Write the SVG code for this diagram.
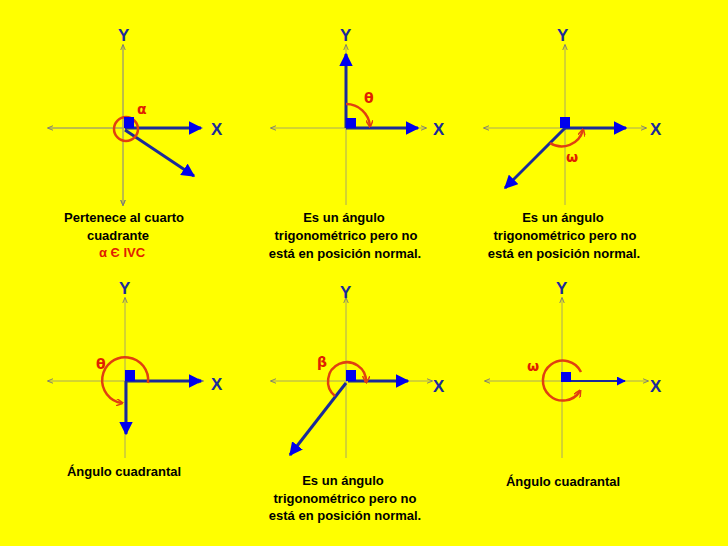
<svg xmlns="http://www.w3.org/2000/svg" width="728" height="546" viewBox="0 0 728 546">
<style>
.ax{stroke:#a8a860;stroke-width:1;fill:none}
.ray{stroke:#1a2a9a;stroke-width:3;fill:none}
.arc{stroke:#e04010;stroke-width:2.5;fill:none}
.lbl{font-family:"Liberation Sans",Arial,sans-serif;font-weight:bold;fill:#1a2a9a;font-size:17px}
.gr{font-family:"DejaVu Sans",sans-serif;font-weight:bold;fill:#e02000;font-size:14px}
.t{font-family:"Liberation Sans",Arial,sans-serif;font-weight:bold;fill:#000;font-size:13px;text-anchor:middle}
.sq{fill:#0000ee}
</style>
<defs>
<marker id="ah" viewBox="0 0 10 10" refX="9" refY="5" markerWidth="4.5" markerHeight="4.5" orient="auto" markerUnits="strokeWidth"><path d="M0,0L10,5L0,10z" fill="#0000ee"/></marker>
<marker id="sa" viewBox="0 0 10 10" refX="9" refY="5" markerWidth="6" markerHeight="6" orient="auto"><path d="M0,1L10,5L0,9" fill="none" stroke="#777" stroke-width="1.5"/></marker>
<marker id="oa" viewBox="0 0 10 10" refX="8" refY="5" markerWidth="3" markerHeight="3" orient="auto" markerUnits="strokeWidth"><path d="M0,0L10,5L0,10" fill="none" stroke="#e04010" stroke-width="2"/></marker>
</defs>
<rect width="728" height="546" fill="#ffff00"/>
<g id="p1">
<path class="ax" d="M123,128H48M123,128H203M123,128V45M123,128V205" marker-end="url(#sa)"/>
<path class="ax" d="M123,128H48" marker-end="url(#sa)"/><path class="ax" d="M123,128V45" marker-end="url(#sa)"/><path class="ax" d="M123,128V205" marker-end="url(#sa)"/>
<path class="ray" d="M125,128H201" marker-end="url(#ah)"/><path class="ray" d="M125,130L194,176" marker-end="url(#ah)"/>
<circle class="arc" cx="126" cy="129" r="12"/>
<rect class="sq" x="124" y="117" width="10" height="11"/>
<text class="lbl" x="118" y="41">Y</text><text class="lbl" x="211" y="135">X</text>
<text class="gr" x="137" y="114">α</text>
<text class="t" x="124" y="222">Pertenece al cuarto</text><text class="t" x="118" y="240">cuadrante</text>
<text class="t" x="122" y="257" fill="#e02000" style="fill:#e02000">α Є IVC</text>
</g>
<g id="p2">
<path class="ax" d="M346,128H271" marker-end="url(#sa)"/><path class="ax" d="M346,128H426" marker-end="url(#sa)"/><path class="ax" d="M346,128V45" marker-end="url(#sa)"/><path class="ax" d="M346,128V205"/>
<path class="ray" d="M346,128H418" marker-end="url(#ah)"/><path class="ray" d="M346,128V54" marker-end="url(#ah)"/>
<path class="arc" d="M346,104A24,24 0 0 1 370,126" marker-end="url(#oa)"/>
<rect class="sq" x="346" y="118" width="10" height="10"/>
<text class="lbl" x="340" y="41">Y</text><text class="lbl" x="433" y="135">X</text>
<text class="gr" x="364" y="103">θ</text>
<text class="t" x="344" y="222">Es un ángulo</text><text class="t" x="346" y="240">trigonométrico pero no</text><text class="t" x="345" y="258">está en posición normal.</text>
</g>
<g id="p3">
<path class="ax" d="M565,128H484" marker-end="url(#sa)"/><path class="ax" d="M565,128H646" marker-end="url(#sa)"/><path class="ax" d="M565,128V45" marker-end="url(#sa)"/><path class="ax" d="M565,128V205"/>
<path class="ray" d="M565,128H626" marker-end="url(#ah)"/><path class="ray" d="M565,128L505,188" marker-end="url(#ah)"/>
<path class="arc" d="M550,143A22,22 0 0 0 583,130" marker-end="url(#oa)"/>
<rect class="sq" x="560" y="117" width="10" height="11"/>
<text class="lbl" x="557" y="41">Y</text><text class="lbl" x="650" y="135">X</text>
<text class="gr" x="566" y="162">ω</text>
<text class="t" x="563" y="222">Es un ángulo</text><text class="t" x="565" y="240">trigonométrico pero no</text><text class="t" x="564" y="258">está en posición normal.</text>
</g>
<g id="p4">
<path class="ax" d="M125,381H48" marker-end="url(#sa)"/><path class="ax" d="M125,381H203" marker-end="url(#sa)"/><path class="ax" d="M125,381V298" marker-end="url(#sa)"/><path class="ax" d="M125,381V458"/>
<path class="ray" d="M126,381H201" marker-end="url(#ah)"/><path class="ray" d="M126,381V434" marker-end="url(#ah)"/>
<path class="arc" d="M148,383A23,23 0 1 0 122,403" marker-end="url(#oa)"/>
<rect class="sq" x="125" y="370" width="10" height="11"/>
<text class="lbl" x="119" y="294">Y</text><text class="lbl" x="211" y="390">X</text>
<text class="gr" x="96" y="369">θ</text>
<text class="t" x="124" y="476">Ángulo cuadrantal</text>
</g>
<g id="p5">
<path class="ax" d="M346,381H271" marker-end="url(#sa)"/><path class="ax" d="M346,381H432" marker-end="url(#sa)"/><path class="ax" d="M346,381V298" marker-end="url(#sa)"/><path class="ax" d="M346,381V458"/>
<path class="ray" d="M348,381H408" marker-end="url(#ah)"/><path class="ray" d="M346,383L290,455" marker-end="url(#ah)"/>
<path class="arc" d="M335,396A19,19 0 1 1 366,382" marker-end="url(#oa)"/>
<rect class="sq" x="346" y="370" width="10" height="11"/>
<text class="lbl" x="340" y="298">Y</text><text class="lbl" x="433" y="392">X</text>
<text class="gr" x="317" y="367">β</text>
<text class="t" x="343" y="485">Es un ángulo</text><text class="t" x="345" y="503">trigonométrico pero no</text><text class="t" x="345" y="520">está en posición normal.</text>
</g>
<g id="p6">
<path class="ax" d="M562,381H485" marker-end="url(#sa)"/><path class="ax" d="M562,381H648" marker-end="url(#sa)"/><path class="ax" d="M562,381V298" marker-end="url(#sa)"/><path class="ax" d="M562,381V458"/>
<path class="ray" d="M564,381H625" marker-end="url(#ah)" style="stroke-width:2"/>
<path class="arc" d="M581,372A20,20 0 1 0 580,391" marker-end="url(#oa)"/>
<rect class="sq" x="561" y="372" width="10" height="10"/>
<text class="lbl" x="556" y="294">Y</text><text class="lbl" x="650" y="392">X</text>
<text class="gr" x="527" y="371">ω</text>
<text class="t" x="563" y="486">Ángulo cuadrantal</text>
</g>
</svg>
